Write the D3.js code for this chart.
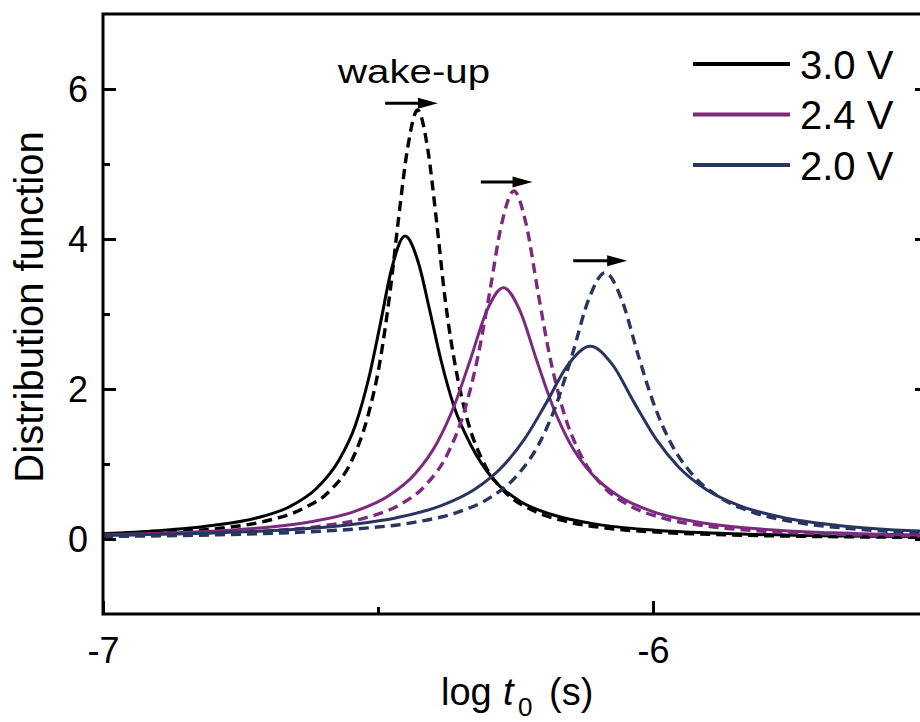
<!DOCTYPE html>
<html><head><meta charset="utf-8">
<script src="https://cdn.jsdelivr.net/npm/d3@7"></script>
<style>
body{margin:0;background:#fff}
svg{display:block}
text{font-family:"Liberation Sans",Arial,Helvetica,sans-serif;fill:#000}
</style>
</head><body>
<svg id="chart" width="920" height="722"></svg>
<script>
// ---- data ----
const seriesNames  = ["3.0 V", "2.4 V", "2.0 V"];
const seriesColors = ["#000000", "#7b2a7d", "#28355f"];

// 3.0 V, solid (before wake-up)
const x30 = [-7.000,-6.901,-6.801,-6.721,-6.661,-6.611,-6.571,-6.541,-6.516,-6.496,-6.476,-6.451,-6.426,-6.406,-6.386,-6.361,-6.331,-6.291,-6.241,-6.181,-6.101,-6.001,-5.851,-5.651,-5.500];
const y30 = [0.07,0.11,0.18,0.28,0.43,0.68,1.05,1.52,2.17,2.86,3.58,4.04,3.67,3.05,2.40,1.75,1.25,0.80,0.50,0.32,0.195,0.12,0.069,0.039,0.028];
// 3.0 V, dashed (after wake-up)
const x30w = [-7.000,-6.878,-6.778,-6.698,-6.638,-6.588,-6.548,-6.518,-6.498,-6.478,-6.463,-6.446,-6.428,-6.410,-6.393,-6.378,-6.358,-6.338,-6.308,-6.268,-6.218,-6.158,-6.078,-5.978,-5.828,-5.628,-5.500];
const y30w = [0.055,0.095,0.15,0.25,0.40,0.64,1.04,1.65,2.30,3.30,4.25,5.22,5.72,5.22,4.20,3.20,2.25,1.60,1.02,0.62,0.38,0.235,0.14,0.086,0.049,0.028,0.021];
// 2.4 V, solid
const x24 = [-7.000,-6.872,-6.722,-6.622,-6.542,-6.482,-6.432,-6.392,-6.362,-6.332,-6.302,-6.272,-6.242,-6.212,-6.182,-6.152,-6.112,-6.062,-6.002,-5.922,-5.822,-5.672,-5.500];
const y24 = [0.056,0.082,0.143,0.230,0.369,0.569,0.873,1.290,1.766,2.394,3.046,3.35,3.046,2.394,1.766,1.290,0.873,0.569,0.369,0.230,0.143,0.082,0.050];
// 2.4 V, dashed
const x24w = [-7.000,-6.853,-6.703,-6.603,-6.523,-6.463,-6.413,-6.373,-6.343,-6.318,-6.298,-6.275,-6.253,-6.231,-6.208,-6.188,-6.163,-6.133,-6.093,-6.043,-5.983,-5.903,-5.803,-5.653,-5.500];
const y24w = [0.039,0.060,0.105,0.172,0.281,0.447,0.720,1.143,1.705,2.445,3.244,4.208,4.64,4.208,3.244,2.445,1.705,1.143,0.720,0.447,0.281,0.172,0.105,0.060,0.038];
// 2.0 V, solid
const x20 = [-7.000,-6.814,-6.664,-6.564,-6.464,-6.384,-6.324,-6.274,-6.234,-6.194,-6.154,-6.114,-6.074,-6.034,-5.994,-5.954,-5.904,-5.844,-5.764,-5.664,-5.500];
const y20 = [0.049,0.078,0.124,0.181,0.287,0.448,0.664,0.964,1.327,1.815,2.328,2.57,2.328,1.815,1.327,0.964,0.664,0.448,0.287,0.181,0.101];
// 2.0 V, dashed
const x20w = [-7.000,-6.787,-6.637,-6.537,-6.437,-6.357,-6.297,-6.247,-6.207,-6.177,-6.147,-6.117,-6.087,-6.057,-6.027,-5.997,-5.967,-5.927,-5.877,-5.817,-5.737,-5.637,-5.500];
const y20w = [0.034,0.057,0.092,0.136,0.219,0.353,0.548,0.849,1.272,1.770,2.453,3.193,3.55,3.193,2.453,1.770,1.272,0.849,0.548,0.353,0.219,0.136,0.081];

// wake-up arrows (data coordinates)
const arrowX0 = [-6.487, -6.313, -6.145];
const arrowX1 = [-6.391, -6.219, -6.047];
const arrowY  = [5.81, 4.76, 3.71];

// axis ticks
const xMajorTicks = [-7, -6];
const xMinorTicks = [-6.5];
const yMajorTicks = [0, 2, 4, 6];
const yMinorTicks = [1, 3, 5];
const xDomain = [-7, -5.5];
const yDomain = [-1, 7];

// ---- drawing ----
const svg = d3.select("#chart");
const L = 103, R = 928, T = 14, B = 614;
const x = d3.scaleLinear().domain(xDomain).range([L, R]);
const y = d3.scaleLinear().domain(yDomain).range([B, T]);

svg.append("defs").append("clipPath").attr("id","plotclip")
  .append("rect").attr("x",L).attr("y",T).attr("width",R-L).attr("height",B-T);

const curves = [
  {xs:x30,  ys:y30,  c:0, dash:false},
  {xs:x30w, ys:y30w, c:0, dash:true},
  {xs:x24,  ys:y24,  c:1, dash:false},
  {xs:x24w, ys:y24w, c:1, dash:true},
  {xs:x20,  ys:y20,  c:2, dash:false},
  {xs:x20w, ys:y20w, c:2, dash:true}
];
const line = d3.line().x(d => x(d[0])).y(d => y(d[1])).curve(d3.curveMonotoneX);
const g = svg.append("g").attr("clip-path","url(#plotclip)");
curves.forEach(cv => {
  g.append("path")
    .attr("d", line(d3.zip(cv.xs, cv.ys)))
    .attr("fill","none")
    .attr("stroke", seriesColors[cv.c])
    .attr("stroke-width", cv.dash ? 3.4 : 3)
    .attr("stroke-dasharray", cv.dash ? "10,6" : null)
    .attr("stroke-linejoin","round");
});

// axes (ticks inward)
function styleAxis(sel){
  sel.select(".domain").remove();
  sel.selectAll(".tick line").attr("stroke","#000").attr("stroke-width",3);
  sel.selectAll(".tick text").attr("fill","#000").style("font-family",'"Liberation Sans",Arial,sans-serif');
}
const fmt = d => d < 0 ? "-" + Math.abs(d) : String(d);
svg.append("g").attr("transform",`translate(0,${B})`)
  .call(d3.axisBottom(x).tickValues(xMajorTicks).tickSize(-13).tickPadding(23).tickFormat(fmt))
  .call(styleAxis).selectAll("text").style("font-size","36px");
svg.append("g").attr("transform",`translate(0,${B})`)
  .call(d3.axisBottom(x).tickValues(xMinorTicks).tickSize(-7).tickFormat(""))
  .call(styleAxis);
svg.append("g").attr("transform",`translate(${L},0)`)
  .call(d3.axisLeft(y).tickValues(yMajorTicks).tickSize(-13).tickPadding(15).tickFormat(fmt))
  .call(styleAxis).selectAll("text").style("font-size","36px").attr("dy","0.34em");
svg.append("g").attr("transform",`translate(${L},0)`)
  .call(d3.axisLeft(y).tickValues(yMinorTicks).tickSize(-7).tickFormat(""))
  .call(styleAxis);
svg.append("g").attr("transform",`translate(${R},0)`)
  .call(d3.axisRight(y).tickValues(yMajorTicks).tickSize(-13).tickFormat(""))
  .call(styleAxis);
svg.append("g").attr("transform",`translate(${R},0)`)
  .call(d3.axisRight(y).tickValues(yMinorTicks).tickSize(-7).tickFormat(""))
  .call(styleAxis);

// frame
svg.append("rect").attr("x",L).attr("y",T).attr("width",R-L).attr("height",B-T)
  .attr("fill","none").attr("stroke","#000").attr("stroke-width",3);

// axis titles
svg.append("text").attr("transform","translate(43,307) rotate(-90)")
  .attr("text-anchor","middle").style("font-size","40px").text("Distribution function");
const xl = svg.append("text").attr("y",705).style("font-size","38px");
xl.append("tspan").attr("x",441).text("log");
xl.append("tspan").attr("x",503).style("font-style","italic").text("t");
xl.append("tspan").attr("x",518).attr("dy",11).style("font-size","26px").text("0");
xl.append("tspan").attr("x",549).attr("dy",-11).text("(s)");

// legend
seriesNames.forEach((n,i) => {
  const ly = 64 + i*50.5;
  svg.append("line").attr("x1",693).attr("x2",790).attr("y1",ly).attr("y2",ly)
    .attr("stroke",seriesColors[i]).attr("stroke-width",4);
  svg.append("text").attr("x",800).attr("y",ly+14.5).style("font-size","40px").text(n);
});

// wake-up annotation and arrows
svg.append("text").attr("x",338).attr("y",83).style("font-size","33px")
  .attr("textLength",152).attr("lengthAdjust","spacingAndGlyphs").text("wake-up");
arrowX0.forEach((x0,i) => {
  const xa = x(x0), xb = x(arrowX1[i]), ya = y(arrowY[i]);
  svg.append("line").attr("x1",xa).attr("x2",xb-12).attr("y1",ya).attr("y2",ya)
    .attr("stroke","#000").attr("stroke-width",3);
  svg.append("path").attr("d",`M${xb},${ya} L${xb-20},${ya-5.5} L${xb-20},${ya+5.5} Z`).attr("fill","#000");
});
</script>
</body></html>
